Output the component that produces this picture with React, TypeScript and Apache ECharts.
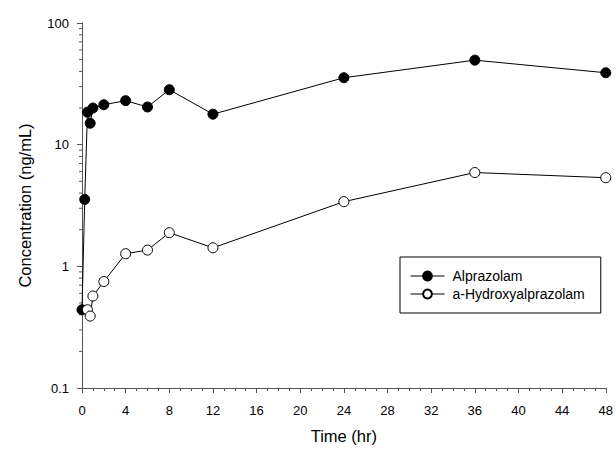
import React, { useEffect, useRef } from "react";
import * as echarts from "echarts";

const alprazolamTimes = [0, 0.25, 0.5, 0.75, 1, 2, 4, 6, 8, 12, 24, 36, 48];
const alprazolamValues = [0.44, 3.55, 18.5, 15, 20, 21.3, 23, 20.4, 28.3, 17.8, 35.5, 49.5, 39];
const hydroxyTimes = [0.5, 0.75, 1, 2, 4, 6, 8, 12, 24, 36, 48];
const hydroxyValues = [0.44, 0.39, 0.57, 0.75, 1.27, 1.36, 1.89, 1.42, 3.4, 5.9, 5.35];
const yMinorTickValues = [
  0.2, 0.3, 0.4, 0.5, 0.6, 0.7, 0.8, 0.9,
  2, 3, 4, 5, 6, 7, 8, 9,
  20, 30, 40, 50, 60, 70, 80, 90,
];

const FONT = '"Liberation Sans", Arial, sans-serif';
const AXIS_COLOR = "#555";

export default function App() {
  const ref = useRef<HTMLDivElement>(null);
  useEffect(() => {
    if (!ref.current) return;
    const chart = echarts.init(ref.current, null, { renderer: "svg" });
    const option: any = {
      animation: false,
      backgroundColor: "#fff",
      textStyle: { fontFamily: FONT },
      grid: { left: 82, right: 9, top: 23, bottom: 61, containLabel: false },
      legend: {
        data: ["Alprazolam", "a-Hydroxyalprazolam"],
        orient: "vertical",
        left: 400,
        top: 257,
        padding: [12, 16, 12, 10],
        itemGap: 4,
        itemWidth: 34,
        itemHeight: 11,
        borderColor: "#000",
        borderWidth: 1,
        backgroundColor: "#fff",
        lineStyle: { width: 1, color: "#000" },
        textStyle: { fontFamily: FONT, fontSize: 14, color: "#000", padding: [0, 0, 0, 3] },
      },
      xAxis: {
        type: "value",
        min: 0,
        max: 48,
        interval: 4,
        name: "Time (hr)",
        nameLocation: "middle",
        nameGap: 39,
        nameTextStyle: { fontFamily: FONT, fontSize: 16.5, color: "#000" },
        axisLine: { show: true, lineStyle: { color: AXIS_COLOR, width: 1 } },
        axisTick: { show: true, length: 5, lineStyle: { color: AXIS_COLOR } },
        minorTick: { show: true, splitNumber: 4, length: 3, lineStyle: { color: AXIS_COLOR } },
        axisLabel: { fontFamily: FONT, fontSize: 13, color: "#000", margin: 16 },
        splitLine: { show: false },
      },
      yAxis: {
        type: "log",
        logBase: 10,
        min: 0.1,
        max: 100,
        name: "Concentration (ng/mL)",
        nameLocation: "middle",
        nameGap: 49,
        nameTextStyle: { fontFamily: FONT, fontSize: 16.5, color: "#000" },
        axisLine: { show: true, lineStyle: { color: AXIS_COLOR, width: 1 } },
        axisTick: { show: true, length: 5, lineStyle: { color: AXIS_COLOR } },
        axisLabel: {
          fontFamily: FONT,
          fontSize: 13,
          color: "#000",
          margin: 13,
          formatter: (v: number) => String(v),
        },
        splitLine: { show: false },
      },
      series: [
        {
          type: "custom",
          name: "minorTicks",
          silent: true,
          clip: false,
          encode: { x: 0, y: 1 },
          data: yMinorTickValues.map((v) => [0, v]),
          renderItem: (params: any, api: any) => {
            const p = api.coord([0, api.value(1)]);
            return {
              type: "line",
              shape: { x1: p[0] - 3, y1: p[1], x2: p[0], y2: p[1] },
              style: { stroke: AXIS_COLOR, lineWidth: 1 },
            };
          },
          z: 1,
        },
        {
          type: "line",
          name: "Alprazolam",
          data: alprazolamTimes.map((t, i) => [t, alprazolamValues[i]]),
          symbol: "circle",
          symbolSize: 10,
          clip: false,
          lineStyle: { color: "#000", width: 1 },
          itemStyle: { color: "#000", borderColor: "#000", borderWidth: 1 },
          z: 3,
        },
        {
          type: "line",
          name: "a-Hydroxyalprazolam",
          data: hydroxyTimes.map((t, i) => [t, hydroxyValues[i]]),
          symbol: "circle",
          symbolSize: 10,
          clip: false,
          lineStyle: { color: "#000", width: 1 },
          itemStyle: { color: "#fff", borderColor: "#000", borderWidth: 1 },
          z: 4,
        },
      ],
    };
    chart.setOption(option);
    return () => chart.dispose();
  }, []);
  return (
    <div
      ref={ref}
      style={{ position: "fixed", left: 0, top: 0, width: 616, height: 449, background: "#fff" }}
    />
  );
}
